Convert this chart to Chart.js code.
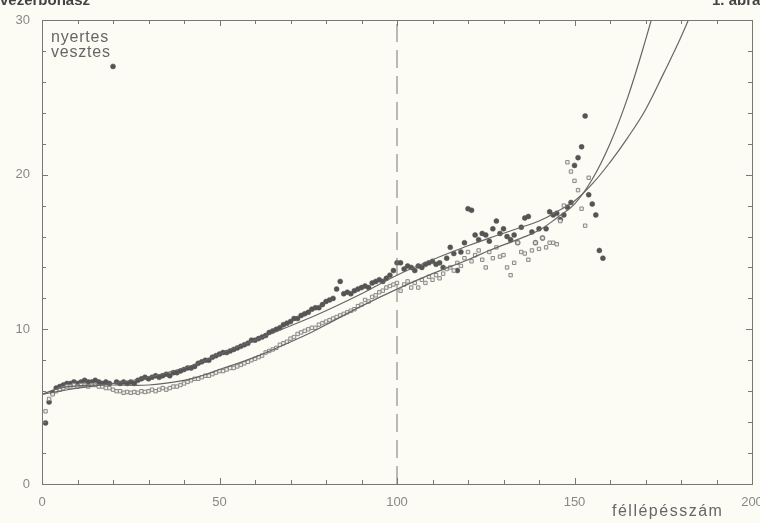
<!DOCTYPE html>
<html lang="hu">
<head>
<meta charset="UTF-8">
<title>1. ábra</title>
<script src="https://cdn.jsdelivr.net/npm/chart.js"></script>
<style>
  body { margin: 0; background: #fcfcf4; }
  .wrap { position: relative; width: 760px; height: 523px; overflow: hidden; font-family: "Liberation Sans", Arial, sans-serif; }
  .txt { position: absolute; white-space: nowrap; }
  .head { font-weight: bold; font-size: 15px; color: #444; }
  .leg { font-size: 16px; color: #666; line-height: 15px; letter-spacing: 0.8px; }
</style>
</head>
<body>
<div class="wrap">
  <canvas id="chart" width="760" height="523"></canvas>
  <div class="txt head" style="left:0px; top:-9px;">vezérbonász</div>
  <div class="txt head" style="left:712px; top:-9px;">1. ábra</div>
  <div class="txt leg" style="left:51px; top:29px;">nyertes<br>vesztes</div>
  <div class="txt" style="left:612px; top:502px; font-size:16px; letter-spacing:1.5px; color:#666;">féllépésszám</div>
</div>

<script>
// nyertes (filled dots), one value per half-move starting at half-move 1
const nyertesStart = 1;
const nyertesY = [
  3.95, 5.3, 5.9, 6.2, 6.3, 6.4, 6.5, 6.5, 6.6, 6.5,
  6.6, 6.7, 6.6, 6.6, 6.7, 6.6, 6.5, 6.6, 6.5, 27.0,
  6.6, 6.5, 6.6, 6.5, 6.6, 6.5, 6.7, 6.8, 6.9, 6.8,
  6.9, 7.0, 6.9, 7.0, 7.1, 7.0, 7.2, 7.2, 7.3, 7.4,
  7.5, 7.5, 7.6, 7.8, 7.9, 8.0, 8.0, 8.2, 8.3, 8.4,
  8.5, 8.5, 8.6, 8.7, 8.8, 8.9, 9.0, 9.1, 9.3, 9.3,
  9.4, 9.5, 9.6, 9.8, 9.9, 10.0, 10.1, 10.3, 10.4, 10.5,
  10.7, 10.7, 10.9, 11.0, 11.1, 11.3, 11.4, 11.4, 11.6, 11.8,
  11.9, 12.0, 12.6, 13.1, 12.3, 12.4, 12.3, 12.5, 12.6, 12.7,
  12.8, 12.7, 13.0, 13.1, 13.2, 13.1, 13.3, 13.5, 13.8, 14.3,
  14.3, 13.9, 14.1, 14.0, 13.8, 14.1, 14.0, 14.2, 14.3, 14.4,
  14.2, 14.3, 14.0, 14.6, 15.3, 14.9, 13.8, 15.0, 15.6, 17.8,
  17.7, 16.1, 15.8, 16.2, 16.1, 15.7, 16.5, 17.0, 16.2, 16.5,
  16.0, 15.8, 16.1, 15.6, 16.6, 17.2, 17.3, 16.3, 15.6, 16.5,
  15.9, 16.5, 17.6, 17.4, 17.5, 17.1, 17.4, 17.9, 18.2, 20.6,
  21.1, 21.8, 23.8, 18.7, 18.1, 17.4, 15.1, 14.6
];

// vesztes (open squares), one value per half-move starting at half-move 1
const vesztesStart = 1;
const vesztesY = [
  4.7, 5.5, 5.8, 6.0, 6.1, 6.2, 6.3, 6.3, 6.4, 6.3,
  6.4, 6.4, 6.3, 6.4, 6.4, 6.3, 6.3, 6.2, 6.2, 6.1,
  6.0, 6.0, 5.9, 5.95, 5.9, 5.95, 5.9, 6.0, 5.95, 6.0,
  6.1, 6.0, 6.1, 6.2, 6.1, 6.2, 6.3, 6.3, 6.4, 6.5,
  6.6, 6.7, 6.8, 6.8, 6.9, 7.0, 7.0, 7.1, 7.2, 7.3,
  7.3, 7.4, 7.5, 7.5, 7.6, 7.7, 7.8, 7.9, 8.0, 8.1,
  8.2, 8.3, 8.5, 8.6, 8.7, 8.8, 9.0, 9.1, 9.2, 9.4,
  9.5, 9.7, 9.8, 9.9, 10.0, 10.1, 10.1, 10.3, 10.4, 10.5,
  10.6, 10.7, 10.8, 10.9, 11.0, 11.1, 11.2, 11.3, 11.5, 11.6,
  11.9, 11.8, 12.1, 12.2, 12.4, 12.5, 12.7, 12.8, 12.9, 13.0,
  12.5, 12.9, 13.1, 12.7, 13.0, 12.7, 13.2, 13.0, 13.4, 13.2,
  13.5, 13.3, 13.6, 13.9, 14.0, 13.8, 14.3, 14.1, 14.6, 15.0,
  14.4, 14.8, 15.1, 14.5, 14.0, 15.0, 14.6, 15.3, 14.7, 14.8,
  14.0, 13.5, 14.3, 15.6, 15.0, 14.9, 14.5, 15.1, 15.6, 15.2,
  15.9, 15.3, 15.6, 15.6, 15.5, 17.0, 18.0, 20.8, 20.2, 19.6,
  19.0, 17.8, 16.7, 19.8
];

// fitted curves
const gorbeNyX = [0, 5, 10, 20, 30, 40, 45, 50, 60, 74, 80, 90, 100, 110, 120, 126, 135, 140, 145, 150, 155, 160, 165, 170, 175, 180, 185];
const gorbeNyY = [5.8, 6.0, 6.2, 6.5, 6.9, 7.5, 7.9, 8.4, 9.3, 10.6, 11.2, 12.3, 13.5, 14.5, 15.4, 15.9, 16.6, 17.0, 17.6, 18.3, 19.4, 20.8, 22.4, 24.2, 26.5, 28.9, 31.6];
const gorbeVeX = [0, 5, 10, 15, 20, 30, 40, 45, 50, 60, 74, 80, 90, 100, 110, 120, 126, 135, 140, 145, 150, 155, 160, 165, 170, 174];
const gorbeVeY = [5.8, 6.2, 6.35, 6.4, 6.4, 6.4, 6.7, 7.0, 7.4, 8.2, 9.6, 10.3, 11.5, 12.6, 13.6, 14.5, 15.1, 15.9, 16.4, 17.2, 18.1, 19.7, 22.0, 25.0, 28.7, 32.0];

// dashed marker line
const jelolesX = 100;

const xTicks = [0, 50, 100, 150, 200];
const yTicks = [0, 10, 20, 30];

function pontok(start, vals) {
  return vals.map((v, i) => ({ x: start + i, y: v }));
}
function par(xs, ys) {
  return xs.map((x, i) => ({ x: x, y: ys[i] }));
}

// frame with inward ticks on all four sides
const keret = {
  id: "keret",
  afterDraw(chart) {
    const ctx = chart.ctx, a = chart.chartArea;
    const xs = chart.scales.x, ys = chart.scales.y;
    ctx.save();
    ctx.strokeStyle = "#777";
    ctx.lineWidth = 1;
    ctx.strokeRect(a.left + 0.5, a.top + 0.5, a.right - a.left, a.bottom - a.top);
    ctx.beginPath();
    for (let v = 0; v <= 200; v += 10) {
      const p = Math.round(xs.getPixelForValue(v)) + 0.5;
      const len = v % 50 === 0 ? 6 : 4;
      ctx.moveTo(p, a.bottom); ctx.lineTo(p, a.bottom - len);
      ctx.moveTo(p, a.top); ctx.lineTo(p, a.top + len);
    }
    for (let v = 0; v <= 30; v += 2) {
      const p = Math.round(ys.getPixelForValue(v)) + 0.5;
      const len = v % 10 === 0 ? 6 : 4;
      ctx.moveTo(a.left, p); ctx.lineTo(a.left + len, p);
      ctx.moveTo(a.right, p); ctx.lineTo(a.right - len, p);
    }
    ctx.stroke();
    ctx.restore();
  }
};

new Chart(document.getElementById("chart"), {
  type: "scatter",
  data: {
    datasets: [
      {
        label: "jelölés",
        data: [{ x: jelolesX, y: 0 }, { x: jelolesX, y: 30 }],
        showLine: true, pointRadius: 0,
        borderColor: "#777", borderWidth: 1, borderDash: [18, 8]
      },
      {
        label: "nyertes görbe",
        data: par(gorbeNyX, gorbeNyY),
        showLine: true, pointRadius: 0, tension: 0.4,
        borderColor: "#666", borderWidth: 1.2
      },
      {
        label: "vesztes görbe",
        data: par(gorbeVeX, gorbeVeY),
        showLine: true, pointRadius: 0, tension: 0.4,
        borderColor: "#666", borderWidth: 1.2
      },
      {
        label: "vesztes",
        data: pontok(vesztesStart, vesztesY),
        pointStyle: "rect", pointRadius: 2.4, pointBorderWidth: 1,
        pointBorderColor: "#888", pointBackgroundColor: "#f0f0e6"
      },
      {
        label: "nyertes",
        data: pontok(nyertesStart, nyertesY),
        pointStyle: "circle", pointRadius: 2.5, pointBorderWidth: 0.5,
        pointBorderColor: "#555", pointBackgroundColor: "#555"
      }
    ]
  },
  options: {
    responsive: false,
    animation: false,
    events: [],
    layout: { padding: { top: 20, right: 8, left: 0, bottom: 0 } },
    plugins: { legend: { display: false }, tooltip: { enabled: false } },
    scales: {
      x: {
        type: "linear", min: 0, max: 200,
        grid: { display: false }, border: { display: false },
        afterBuildTicks(s) { s.ticks = xTicks.map(v => ({ value: v })); },
        afterFit(s) { s.height = 39; s.paddingLeft = 0; s.paddingRight = 0; },
        ticks: {
          autoSkip: false, maxRotation: 0, padding: 3,
          color: "#888", font: { family: "Liberation Sans, Arial", size: 13 }
        }
      },
      y: {
        type: "linear", min: 0, max: 30,
        grid: { display: false }, border: { display: false },
        afterBuildTicks(s) { s.ticks = yTicks.map(v => ({ value: v })); },
        afterFit(s) { s.width = 42; s.paddingTop = 0; s.paddingBottom = 0; },
        ticks: {
          padding: 4,
          color: "#888", font: { family: "Liberation Sans, Arial", size: 13 }
        }
      }
    }
  },
  plugins: [keret]
});
</script>
</body>
</html>
